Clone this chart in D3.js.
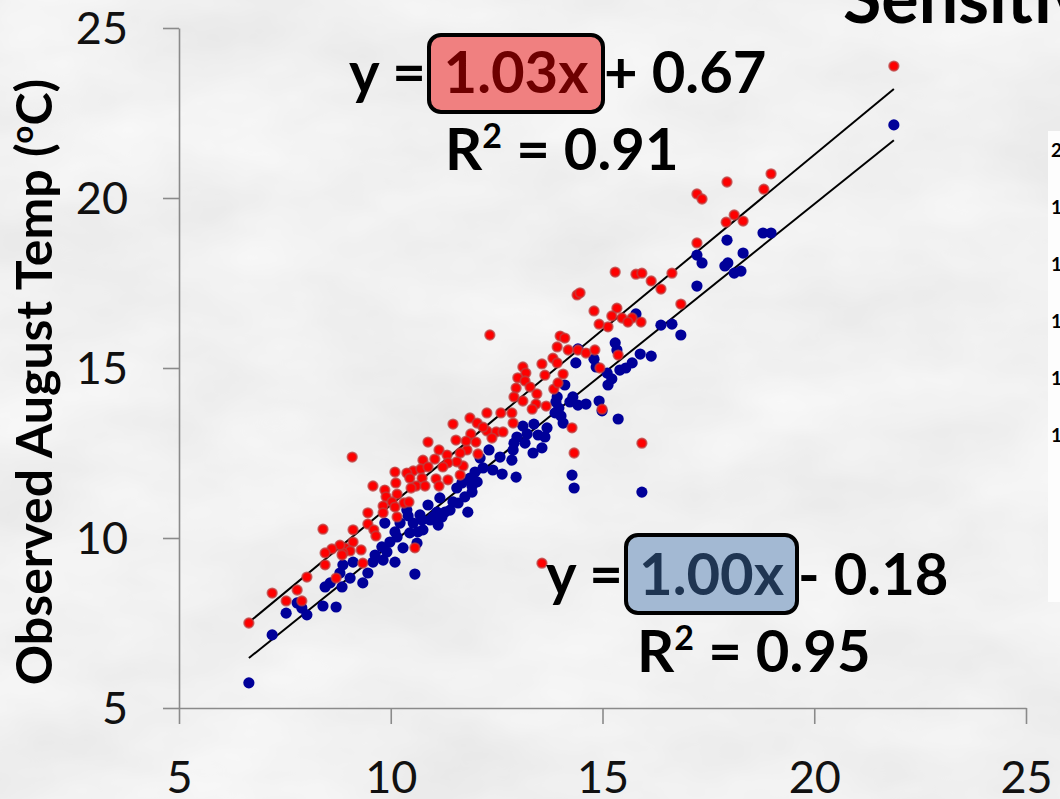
<!DOCTYPE html>
<html>
<head>
<meta charset="utf-8">
<script src="https://cdn.jsdelivr.net/npm/d3@7"></script>
<style>
  html, body { margin: 0; padding: 0; background: #dedede; overflow: hidden; }
  svg { display: block; }
</style>
</head>
<body>
<svg id="chart" width="1060" height="799"></svg>
<script>
// Modelled vs observed August stream temperature (°C)
// Red: warmer scenario, blue: baseline
const redX = [21.88,17.94,18.98,18.81,17.23,17.35,18.11,17.92,18.32,17.23,
  15.30,15.79,15.93,16.64,16.15,16.38,16.85,15.34,15.22,15.46,
  15.70,15.60,15.91,15.13,14.40,14.47,14.80,14.92,12.34,14.00,
  14.11,13.93,14.19,14.42,14.61,14.82,15.37,13.83,13.93,13.57,
  13.12,13.19,13.00,13.17,14.07,14.94,13.64,13.85,13.95,12.96,
  13.29,13.45,12.91,13.12,13.43,13.67,13.34,14.99,12.27,12.60,
  12.86,12.89,11.87,12.04,12.27,12.49,12.65,12.39,14.28,15.93,
  14.33,11.89,12.01,11.80,12.06,11.71,11.64,11.47,12.18,11.54,
  11.78,10.88,11.14,11.33,11.56,11.35,10.76,10.53,10.71,10.88,
  11.04,11.23,10.10,10.38,10.45,10.74,11.07,11.35,11.64,10.12,
  10.60,10.81,11.14,10.48,9.58,9.86,10.15,9.89,10.31,10.43,
  10.03,9.82,10.10,9.46,9.82,10.15,9.09,9.46,9.11,9.60,
  9.65,9.11,8.92,9.04,9.30,8.87,10.57,9.34,8.40,8.80,
  8.61,8.45,8.85,8.45,8.02,8.71,7.20,7.79,7.53,7.90,6.65,13.57];
const redY = [23.88,20.47,20.71,20.26,20.12,19.97,19.50,19.29,19.32,18.68,
  17.82,17.76,17.79,17.79,17.56,17.32,16.88,16.76,16.53,16.47,
  16.47,16.35,16.35,16.21,17.15,17.21,16.68,16.29,15.97,15.94,
  15.88,15.62,15.53,15.53,15.44,15.53,15.38,15.29,15.15,15.12,
  15.03,14.85,14.71,14.62,14.82,15.00,14.79,14.38,14.56,14.41,
  14.44,14.24,14.15,14.03,13.94,13.88,13.79,13.79,13.68,13.68,
  13.68,13.38,13.53,13.38,13.15,13.12,13.12,12.94,13.24,12.79,
  12.50,13.06,12.82,12.59,12.47,12.12,12.50,13.35,13.26,12.88,
  12.85,12.82,12.59,12.44,12.24,12.21,12.29,11.97,12.03,12.09,
  12.32,12.09,11.94,11.91,11.76,11.76,11.74,11.71,11.85,11.62,
  11.53,11.53,11.53,11.47,11.53,11.41,11.29,11.21,11.03,11.06,
  11.06,10.94,10.91,10.74,10.74,10.62,12.38,10.41,10.24,10.24,
  10.06,9.88,9.71,9.62,9.65,9.56,9.71,9.26,10.26,9.79,
  9.68,9.56,9.50,9.21,8.85,8.82,8.38,8.47,8.15,8.15,7.50,9.26];

const blueX = [21.88,18.79,18.98,17.94,17.23,17.35,18.32,17.96,17.89,18.11,
  18.27,17.23,15.79,16.38,16.64,16.85,15.30,15.34,15.89,16.15,
  14.42,14.37,14.80,14.85,15.11,15.41,15.55,15.70,15.22,15.13,
  14.11,13.93,14.30,14.23,14.42,14.61,13.90,13.97,13.88,14.02,
  14.07,14.92,14.99,15.37,13.12,13.38,13.69,12.98,13.22,13.48,
  13.64,12.91,13.17,13.57,13.36,12.86,12.58,12.32,12.11,12.18,
  11.99,12.41,12.63,12.96,14.28,14.33,15.93,11.87,11.92,11.68,
  11.75,12.89,12.04,11.92,11.56,11.47,11.59,11.16,11.40,11.82,
  10.88,11.09,11.21,11.00,11.28,10.93,10.69,10.74,10.76,10.41,
  10.53,10.45,10.64,10.38,11.12,10.22,9.86,10.10,10.15,9.98,
  10.29,10.62,9.79,9.91,9.63,9.58,9.82,10.10,9.11,8.87,
  9.46,10.57,8.80,9.04,8.57,8.45,8.85,9.34,7.79,7.90,
  8.02,7.53,8.40,8.71,7.20,6.65];
const blueY = [22.15,18.97,18.97,18.76,18.32,18.09,18.38,18.09,18.00,17.79,
  17.85,17.41,16.59,16.26,16.29,15.97,15.74,15.53,15.41,15.35,
  15.56,15.15,15.26,15.03,14.85,14.94,15.00,15.15,14.68,14.50,
  14.50,14.15,14.15,14.00,13.91,13.94,14.00,13.82,13.68,13.59,
  13.38,14.03,13.74,13.50,13.29,13.35,13.24,12.97,13.06,13.03,
  12.97,12.79,12.79,12.65,12.50,12.29,12.38,12.59,12.35,12.06,
  11.94,12.00,11.88,11.79,11.85,11.47,11.35,11.76,11.35,11.62,
  11.21,12.59,11.65,11.53,11.47,11.06,11.03,11.18,10.82,10.76,
  10.97,10.76,10.62,10.62,10.76,10.53,10.68,10.53,10.24,10.65,
  10.44,10.15,10.18,10.82,10.38,10.44,10.44,10.18,10.03,9.88,
  9.71,9.85,9.74,9.59,9.50,9.29,9.35,9.29,9.29,9.21,
  8.97,8.94,8.97,8.82,8.68,8.56,8.56,8.68,8.09,7.94,
  7.74,7.79,8.00,7.97,7.15,5.74];

// Linear fits: [red, blue]
const fitSlope = [1.03, 1.00];
const fitIntercept = [0.67, -0.18];
const fitR2 = [0.91, 0.95];

const xTicks = [5, 10, 15, 20, 25];
const yTicks = [5, 10, 15, 20, 25];
const insetTicks = [20, 18, 16, 14, 12, 10];
const titleText = "Sensitivity";
const yTitle = "Observed August Temp (";

const FONT = "Lato, 'Open Sans', sans-serif";
const svg = d3.select("#chart");
const W = 1060, H = 799;

// ---- stone-like background ----
const defs = svg.append("defs");
const f = defs.append("filter").attr("id", "stone")
  .attr("x", 0).attr("y", 0).attr("width", "100%").attr("height", "100%");
f.append("feTurbulence").attr("type", "fractalNoise")
  .attr("baseFrequency", "0.006 0.011").attr("numOctaves", 4).attr("seed", 11);
f.append("feColorMatrix").attr("type", "matrix")
  .attr("values", "0.17 0 0 0 0.79  0.17 0 0 0 0.79  0.17 0 0 0 0.79  0 0 0 0 1");
svg.append("rect").attr("width", W).attr("height", H).attr("fill", "#dedede");
svg.append("rect").attr("width", W).attr("height", H).attr("filter", "url(#stone)");

// ---- scales ----
const x = d3.scaleLinear().domain([5, 25]).range([179, 1026]);
const y = d3.scaleLinear().domain([5, 25]).range([708, 28]);

// ---- side title, partially off-canvas ----
svg.append("text").attr("x", 843).attr("y", 23)
  .attr("font-family", FONT).attr("font-weight", 700).attr("font-size", 70)
  .attr("fill", "#000").text(titleText);

// ---- neighbouring panel (clipped at the right edge) ----
const insetY = d3.scaleLinear().domain([20, 10]).range([150, 435]);
svg.append("rect").attr("x", 1048).attr("y", 131).attr("width", 30).attr("height", 471)
  .attr("fill", "#fdfdfd");
svg.append("g").selectAll("text").data(insetTicks).join("text")
  .attr("x", 1051).attr("y", d => insetY(d)).attr("dy", "0.36em")
  .attr("font-family", FONT).attr("font-weight", 700).attr("font-size", 19)
  .attr("fill", "#000").text(d => d);

// ---- axes ----
const axisColor = "#8a8a8a";
const gy = svg.append("g").attr("transform", `translate(${x(5)},0)`)
  .call(d3.axisLeft(y).tickValues(yTicks).tickSizeInner(16).tickSizeOuter(0).tickPadding(35));
const gx = svg.append("g").attr("transform", `translate(0,${y(5)})`)
  .call(d3.axisBottom(x).tickValues(xTicks).tickSizeInner(16).tickSizeOuter(0));
[gx, gy].forEach(g => {
  g.select(".domain").attr("stroke", axisColor).attr("stroke-width", 1.6);
  g.selectAll(".tick line").attr("stroke", axisColor).attr("stroke-width", 1.6);
  g.selectAll(".tick text").attr("fill", "#111")
    .attr("font-family", FONT).attr("font-size", 45).attr("font-weight", 400);
});
gy.selectAll(".tick text").attr("dy", "0.34em");
gx.selectAll(".tick text").attr("y", 85).attr("dy", 0);

// y axis title
const yt = svg.append("text")
  .attr("transform", `translate(52,382) rotate(-90)`)
  .attr("text-anchor", "middle")
  .attr("font-family", FONT).attr("font-weight", 700).attr("font-size", 50)
  .attr("fill", "#000");
yt.append("tspan").text(yTitle);
yt.append("tspan").attr("font-size", 31).attr("dy", -19).text("o");
yt.append("tspan").attr("dy", 19).text("C)");

// ---- trend lines ----
const series = [
  { xs: redX, ys: redY, k: 0 },
  { xs: blueX, ys: blueY, k: 1 }
];
series.forEach(s => {
  const [x0, x1] = d3.extent(s.xs);
  const m = fitSlope[s.k], b = fitIntercept[s.k];
  svg.append("line")
    .attr("x1", x(x0)).attr("y1", y(m * x0 + b))
    .attr("x2", x(x1)).attr("y2", y(m * x1 + b))
    .attr("stroke", "#000").attr("stroke-width", 2);
});

// ---- points ----
svg.append("g").selectAll("circle").data(d3.range(blueX.length)).join("circle")
  .attr("cx", i => x(blueX[i])).attr("cy", i => y(blueY[i]))
  .attr("r", 5.6).attr("fill", "#000099");
svg.append("g").selectAll("circle").data(d3.range(redX.length)).join("circle")
  .attr("cx", i => x(redX[i])).attr("cy", i => y(redY[i]))
  .attr("r", 4.7).attr("fill", "#ff0000")
  .attr("stroke", "rgba(190,60,60,0.75)").attr("stroke-width", 1.9);

// ---- equation labels ----
const fmtSlope = d => d3.format(".2f")(d) + "x";
const eqs = [
  { k: 0, box: [429, 35, 174, 77], base: 93, left: 353, r2x: 445, r2y: 170,
    fill: "#f08080", txt: "#6e0000" },
  { k: 1, box: [626, 535, 171, 78], base: 595, left: 553, r2x: 637, r2y: 672,
    fill: "#a3b9d3", txt: "#1f3552" }
];
const EQ_SIZE = 58;
eqs.forEach(e => {
  const g = svg.append("g").attr("font-family", FONT).attr("font-weight", 700)
    .attr("font-size", EQ_SIZE);
  const [bx, by, bw, bh] = e.box;
  g.append("text").attr("x", bx - 3).attr("y", e.base).attr("text-anchor", "end")
    .attr("fill", "#000").text("y =");
  g.append("rect").attr("x", bx).attr("y", by).attr("width", bw).attr("height", bh)
    .attr("rx", 12).attr("fill", e.fill).attr("stroke", "#000").attr("stroke-width", 4);
  g.append("text").attr("x", bx + bw / 2).attr("y", e.base).attr("text-anchor", "middle")
    .attr("fill", e.txt).text(fmtSlope(fitSlope[e.k]));
  const b = fitIntercept[e.k];
  g.append("text").attr("x", bx + bw + 1).attr("y", e.base)
    .attr("fill", "#000")
    .text((b < 0 ? "- " : "+ ") + d3.format(".2f")(Math.abs(b)));
  const r = g.append("text").attr("x", e.r2x).attr("y", e.r2y).attr("fill", "#000");
  r.append("tspan").text("R");
  r.append("tspan").attr("font-size", 34).attr("dy", -22).text("2");
  r.append("tspan").attr("dy", 22).text(" = " + d3.format(".2f")(fitR2[e.k]));
});
</script>
</body>
</html>
